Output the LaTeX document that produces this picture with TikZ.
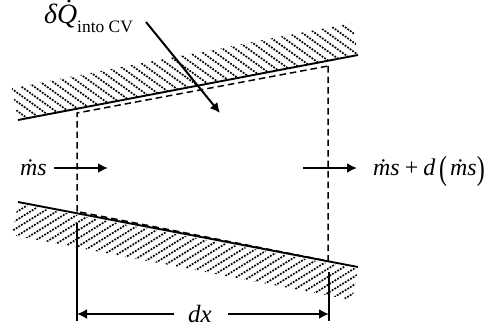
\documentclass[tikz,border=0pt]{standalone}
\usepackage{fontspec}
\setmainfont{Liberation Serif}
\usetikzlibrary{arrows.meta}
\newcommand{\tallparen}[1]{\raisebox{-4bp}{\scalebox{1.0}[1.4]{\upshape #1}}}
\begin{document}
\begin{tikzpicture}[x=1bp,y=-1bp,
  wall/.style={line width=1.9bp,black},
  cv/.style={line width=1.5bp,dash pattern=on 6.5bp off 4bp,black},
  flow/.style={line width=2bp,-{Latex[length=10bp,width=10bp]}},
  dimline/.style={line width=1.7bp},
  hatchline/.style={line width=1.7bp,dash pattern=on 1.8bp off 1.3bp,black},
  lbl/.style={inner sep=0pt,font=\itshape}]
\useasboundingbox (0,0) rectangle (485,329);
\fill[white] (0,0) rectangle (485,329);
% hatching
\begin{scope}
  \clip (12,88) -- (352,23) -- (358,55) -- (18,120) -- cycle;
  \foreach \i in {0,...,46}
    \draw[hatchline] (-150+\i*12.7,0) -- ++(220,158);
\end{scope}
\begin{scope}
  \clip (18,204) -- (358,269) -- (352,300) -- (12,235) -- cycle;
  \foreach \i in {0,...,43}
    \draw[hatchline] (\i*13,190) -- ++(-200,124);
\end{scope}
% coordinates
\coordinate (tl) at (18,120);
\coordinate (tr) at (358,55);
\coordinate (bl) at (18,202);
\coordinate (br) at (358,267);
\coordinate (c1) at (77,211.5);
\coordinate (c2) at (77,113);
\coordinate (c3) at (328,66);
\coordinate (c4) at (328,261);
\coordinate (d1) at (77,223);
\coordinate (d2) at (77,321);
\coordinate (d3) at (329,272);
\coordinate (d4) at (329,321);
\coordinate (da) at (77,314);
\coordinate (db) at (329,314);
\coordinate (in1) at (54,168);
\coordinate (in2) at (108,168);
\coordinate (out1) at (303,168);
\coordinate (out2) at (357,168);
\coordinate (q1) at (146,22);
\coordinate (q2) at (220,113);
% walls and control volume
\draw[wall] (tl) -- (tr);
\draw[wall] (bl) -- (br);
\draw[cv] (c1) -- (c2) -- (c3);
\draw[cv] (c3) -- (c4) -- (c1);
% dimension
\draw[dimline] (d1) -- (d2);
\draw[dimline] (d3) -- (d4);
\node[lbl,font=\itshape\fontsize{25}{27}\selectfont] (dx) at (200,314) {dx};
\draw[flow] (dx.west) ++(-14,0) -- (da);
\draw[flow] (dx.east) ++(16,0) -- (db);
% flows
\draw[flow] (in1) -- (in2);
\draw[flow] (out1) -- (out2);
\draw[flow] (q1) -- (q2);
% labels
\node[lbl,anchor=base west,font=\itshape\fontsize{28}{30}\selectfont] (q) at (44,23) {δ\.Q};
\node[lbl,anchor=base west,font=\fontsize{17.5}{19}\selectfont] (qs) at (77,32) {into CV};
\node[lbl,anchor=base west,font=\itshape\fontsize{24}{26}\selectfont] (ms) at (20,175) {\.ms};
\node[lbl,anchor=base west,font=\itshape\fontsize{24}{26}\selectfont] (ms2) at (373,175) {\.ms\hspace{5bp}{\upshape +}\hspace{5bp}d\hspace{4bp}\tallparen{(}\hspace{3bp}\.ms\tallparen{)}};
\end{tikzpicture}
\end{document}
